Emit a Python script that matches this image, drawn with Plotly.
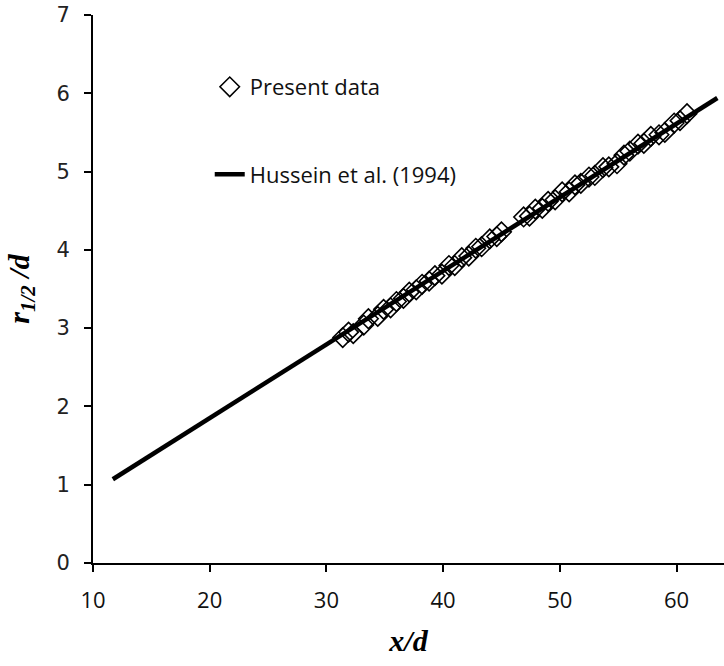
import plotly.graph_objects as go

# Present data (x/d, r1/2/d)
data_x = [31.4, 31.9, 32.3, 33.2, 33.6, 34.4, 34.9, 35.5, 36.0, 36.6, 37.1, 37.7, 38.2, 38.8,
          39.3, 39.9, 40.5, 41.0, 41.6, 42.2, 42.8, 43.3, 44.0, 44.6, 45.0, 46.9, 47.4, 47.9,
          48.5, 49.0, 49.6, 50.2, 50.8, 51.3, 51.8, 52.5, 53.0, 53.7, 54.2, 54.9, 55.5, 56.0,
          56.7, 57.2, 57.8, 58.5, 59.0, 59.8, 60.3, 60.9]
data_y = [2.88, 2.95, 2.93, 3.04, 3.12, 3.15, 3.24, 3.26, 3.34, 3.38, 3.46, 3.49, 3.56, 3.60,
          3.67, 3.69, 3.80, 3.80, 3.90, 3.92, 4.02, 4.04, 4.14, 4.17, 4.23, 4.42, 4.43, 4.52,
          4.53, 4.62, 4.64, 4.74, 4.74, 4.83, 4.85, 4.93, 4.95, 5.05, 5.06, 5.10, 5.21, 5.26,
          5.35, 5.36, 5.45, 5.47, 5.50, 5.62, 5.65, 5.74]

# Hussein et al. (1994) line
hussein_x = [11.7, 63.5]
hussein_y = [1.07, 5.94]

x_ticks = [10, 20, 30, 40, 50, 60]
y_ticks = [0, 1, 2, 3, 4, 5, 6, 7]

fig = go.Figure()
fig.add_trace(go.Scatter(
    x=data_x, y=data_y, mode="markers", name="Present data",
    legendgroup="a",
    marker=dict(symbol="diamond-open", size=15, color="black", line=dict(width=1.6, color="black")),
))
fig.add_trace(go.Scatter(
    x=hussein_x, y=hussein_y, mode="lines", name="Hussein et al. (1994)",
    legendgroup="b",
    line=dict(color="black", width=4.5),
))

fig.update_layout(
    width=724, height=666,
    margin=dict(l=93, r=0, t=15, b=103),
    plot_bgcolor="white", paper_bgcolor="white",
    showlegend=True,
    legend=dict(
        x=0.185, y=0.907, xanchor="left", yanchor="top",
        bgcolor="rgba(0,0,0,0)",
        font=dict(family="Open Sans", size=22, color="#111"),
        tracegroupgap=56, traceorder="grouped",
    ),
    xaxis=dict(
        range=[10, 64.07], tickvals=x_ticks, showgrid=False, zeroline=False,
        showline=True, linecolor="black", linewidth=2,
        ticks="outside", ticklen=7, tickwidth=1.5, tickcolor="black",
        tickfont=dict(family="Open Sans", size=22, color="#111"),
        ticklabelstandoff=10,
        title=dict(text="<b><i>x/d</i></b>", font=dict(family="Liberation Serif", size=30, color="black"), standoff=17),
    ),
    yaxis=dict(
        range=[0, 7], tickvals=y_ticks, showgrid=False, zeroline=False,
        showline=True, linecolor="black", linewidth=2,
        ticks="outside", ticklen=7, tickwidth=1.5, tickcolor="black",
        tickfont=dict(family="DejaVu Sans", size=21, color="#222"),
        ticklabelstandoff=10,
        title=dict(text="<b><i>r<sub>1/2</sub> /d</i></b>", font=dict(family="Liberation Serif", size=30, color="black"), standoff=18),
    ),
)

fig.write_html("out.html")
